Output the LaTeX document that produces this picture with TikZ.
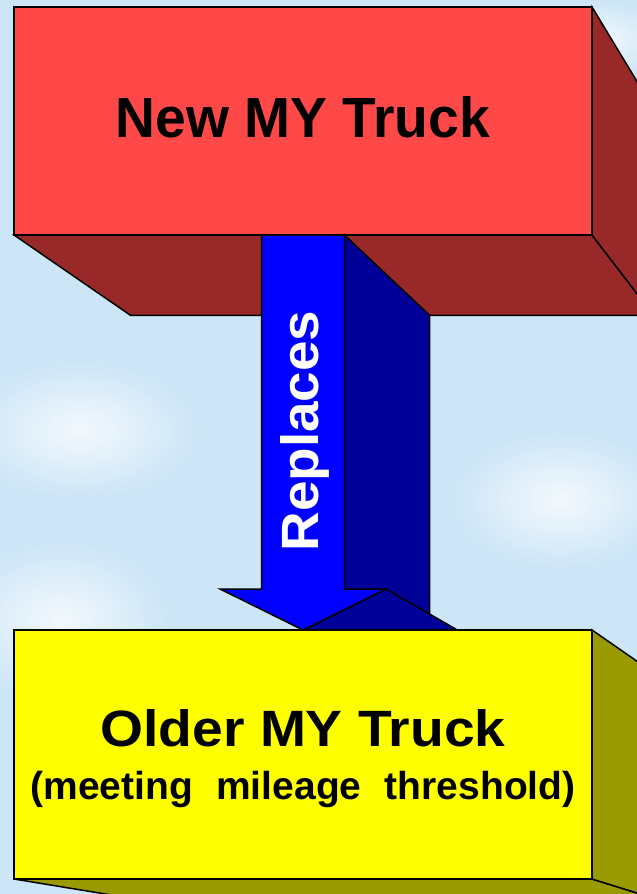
\documentclass[tikz,border=0pt]{standalone}
\usepackage{fontspec}
\setmainfont{Liberation Sans}
\usepackage{graphicx}
\usepackage{tikz}
\usetikzlibrary{calc}
\definecolor{SkyBlue}{RGB}{204,229,247}
\definecolor{TruckRed}{RGB}{255,72,72}
\definecolor{TruckRedDark}{RGB}{153,41,41}
\definecolor{ArrowBlue}{RGB}{0,0,255}
\definecolor{ArrowBlueDark}{RGB}{0,0,153}
\definecolor{TruckYellow}{RGB}{255,255,0}
\definecolor{TruckOlive}{RGB}{153,153,0}
\newcommand{\extrude}{0.095}

\begin{document}
\begin{tikzpicture}[x=1pt, y=-1pt,
  face/.style={draw=black, line width=1.5pt, inner sep=0pt, outer sep=0pt,
               font=\bfseries},
  side/.style={draw=black, line width=1.5pt, line join=miter},
  cloud/.style={inner color=white!75!SkyBlue, outer color=SkyBlue}]

  \clip (0,0) rectangle (637,894);
  \fill[SkyBlue] (0,0) rectangle (637,894);
  \shade[cloud] (80,430) ellipse (120pt and 70pt);
  \shade[cloud] (60,620) ellipse (110pt and 80pt);
  \shade[cloud] (560,500) ellipse (110pt and 70pt);
  \shade[cloud] (600,40) ellipse (70pt and 40pt);

  \coordinate (vp) at (1240,1080);

  % new truck
  \node[face, fill=TruckRed, minimum width=578pt, minimum height=228pt,
        text depth=9pt] (newtruck) at (303,121)
    {\resizebox{374pt}{41pt}{New MY Truck}};
  \draw[side, fill=TruckRedDark] (newtruck.south west)
    -- ($(newtruck.south west)!\extrude!(vp)$)
    -- ($(newtruck.south east)!\extrude!(vp)$)
    -- (newtruck.south east) -- cycle;
  \draw[side, fill=TruckRedDark] (newtruck.north east)
    -- ($(newtruck.north east)!\extrude!(vp)$)
    -- ($(newtruck.south east)!\extrude!(vp)$)
    -- (newtruck.south east) -- cycle;

  % arrow
  \coordinate (top) at (newtruck.south);
  \coordinate (tip) at (303,630);
  \coordinate (shaftL) at ($(top)+(-41.5,0)$);
  \coordinate (shaftR) at ($(top)+(41.5,0)$);
  \coordinate (neckL) at ($(tip)+(-41.5,-41)$);
  \coordinate (neckR) at ($(tip)+(41.5,-41)$);
  \coordinate (barbL) at ($(tip)+(-83,-41)$);
  \coordinate (barbR) at ($(tip)+(83,-41)$);
  \draw[side, fill=ArrowBlueDark] (shaftR)
    -- ($(shaftR)!\extrude!(vp)$) -- ($(neckR)!\extrude!(vp)$)
    -- (neckR) -- cycle;
  \draw[side, fill=ArrowBlueDark] (barbR)
    -- ($(barbR)!\extrude!(vp)$) -- ($(tip)!\extrude!(vp)$)
    -- (tip) -- cycle;
  \draw[side, fill=ArrowBlue] (shaftL) -- (shaftR) -- (neckR) -- (barbR)
    -- (tip) -- (barbL) -- (neckL) -- cycle;
  \node[rotate=90, anchor=base, inner sep=0pt, text=white, font=\bfseries]
    (replaces) at ($(top)+(15,196)$) {\resizebox{241pt}{38pt}{Replaces}};

  % older truck
  \node[face, fill=TruckYellow, anchor=north, minimum width=578pt,
        minimum height=249pt, align=center, text height=99pt,
        font=\bfseries\fontsize{39}{53}\selectfont] (oldtruck) at (tip)
    {\resizebox{405pt}{37pt}{Older MY Truck}\\
     (meeting\hspace{0.6em}mileage\hspace{0.6em}threshold)};
  \draw[side, fill=TruckOlive] (oldtruck.south west)
    -- ($(oldtruck.south west)!\extrude!(vp)$)
    -- ($(oldtruck.south east)!\extrude!(vp)$)
    -- (oldtruck.south east) -- cycle;
  \draw[side, fill=TruckOlive] (oldtruck.north east)
    -- ($(oldtruck.north east)!\extrude!(vp)$)
    -- ($(oldtruck.south east)!\extrude!(vp)$)
    -- (oldtruck.south east) -- cycle;
\end{tikzpicture}
\end{document}
